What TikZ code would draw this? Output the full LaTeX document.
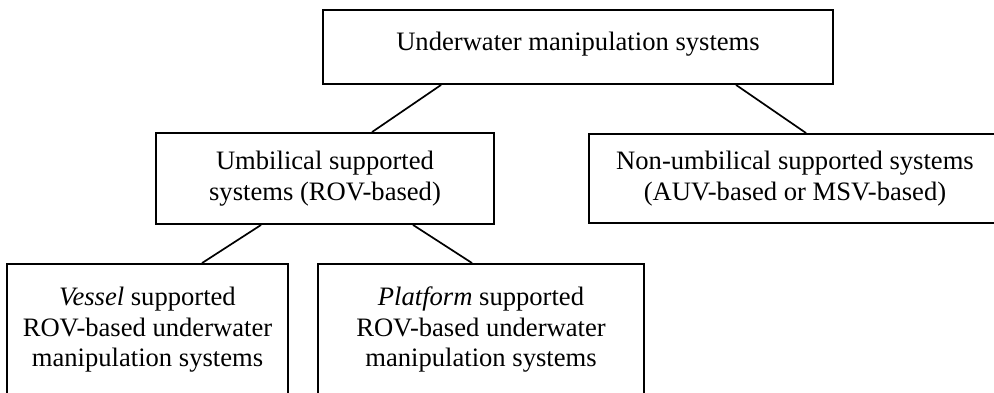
\documentclass[tikz,border=0pt]{standalone}
\usepackage{fontspec}
\setmainfont{Liberation Serif}
\begin{document}
\begin{tikzpicture}[x=1pt,y=-1pt,
  box/.style={draw=black, line width=1.9pt, fill=white, inner sep=0pt,
    align=center, font=\fontsize{26.6}{30.5}\selectfont},
  link/.style={draw=black, line width=1.7pt}]
  \clip (0,0) rectangle (994,393);
  \fill[white] (0,0) rectangle (994,393);

  % root
  \node[box, minimum width=510pt, minimum height=74pt,
        text height=18pt, text depth=10pt] (root) at (578,47)
    {Underwater manipulation systems};

  % second level
  \node[box, minimum width=338pt, minimum height=91pt] (umb) at (325,178.5)
    {Umbilical supported\\systems (ROV-based)};
  \node[box, minimum width=412pt, minimum height=89pt] (nonumb) at (795,178.5)
    {Non-umbilical supported systems\\(AUV-based or MSV-based)};

  % third level
  \node[box, minimum width=281pt, minimum height=132pt] (vessel) at (147.5,330)
    {\textit{Vessel} supported\\ROV-based underwater\\manipulation systems};
  \node[box, minimum width=326pt, minimum height=132pt] (platform) at (481,330)
    {\textit{Platform} supported\\ROV-based underwater\\manipulation systems};

  % connectors
  \draw[link] ([xshift=119pt]root.south west) -- ([xshift=217pt]umb.north west);
  \draw[link] ([xshift=414pt]root.south west) -- ([xshift=218pt]nonumb.north west);
  \draw[link] ([xshift=106pt]umb.south west) -- ([xshift=196pt]vessel.north west);
  \draw[link] ([xshift=258pt]umb.south west) -- ([xshift=155pt]platform.north west);
\end{tikzpicture}
\end{document}
